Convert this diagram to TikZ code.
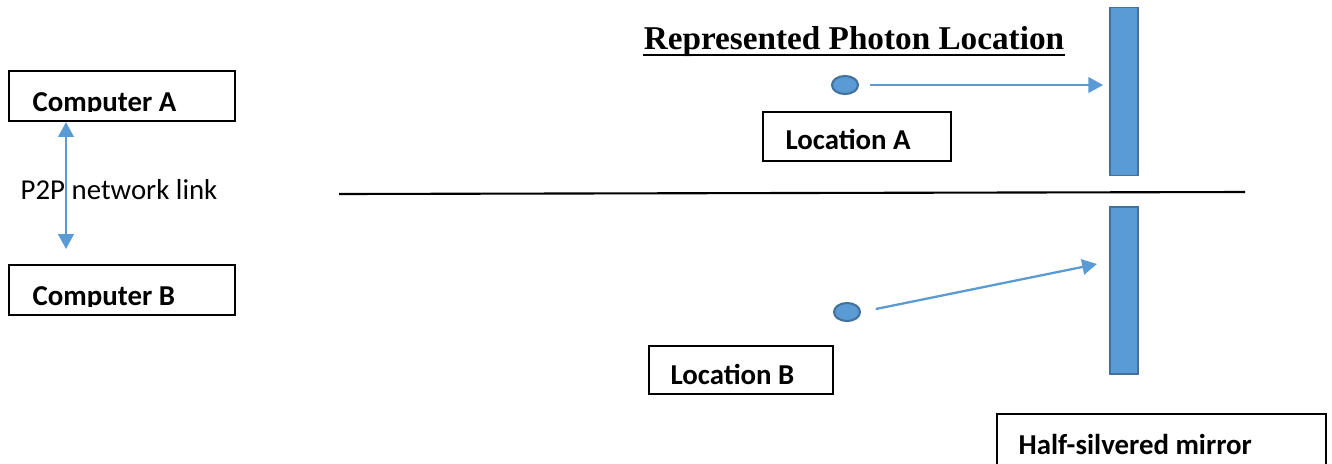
\documentclass[tikz,border=0pt]{standalone}
\usepackage{fontspec}
\setmainfont{Carlito}
\newfontfamily\headfont{Liberation Serif}
\usepackage{tikz}
\usetikzlibrary{shapes.geometric, arrows.meta, positioning}
\definecolor{mirrorblue}{HTML}{5B9BD5}
\definecolor{mirroredge}{HTML}{41719C}
\tikzstyle{textbox} = [rectangle, draw, line width=0.65pt, inner sep=0pt]
\tikzstyle{boxtext} = [inner sep=0pt, font=\fontsize{8.2}{10}\selectfont\bfseries]
\tikzstyle{mirror} = [rectangle, draw=mirroredge, line width=0.45pt, fill=mirrorblue, inner sep=0pt, minimum width=0.28cm]
\tikzstyle{photon} = [ellipse, draw=mirroredge, line width=0.6pt, fill=mirrorblue, inner sep=0pt, minimum width=0.26cm, minimum height=0.18cm]
\tikzstyle{ray} = [draw=mirrorblue, line width=0.65pt, -{Triangle[length=4.2pt, width=4.4pt]}]

\begin{document}
\begin{tikzpicture}[x=0.01cm, y=-0.01cm]
    \useasboundingbox (0,0) rectangle (1332,463);
    \clip (0,0) rectangle (1332,463);

    % Computers on the left, text cut off by the box margin
    \node (compA) [textbox, minimum width=2.26cm, minimum height=0.50cm] at (122,96) {};
    \node (compB) [textbox, minimum width=2.26cm, minimum height=0.50cm] at (122,290) {};
    \begin{scope}
        \clip (compA.north west) rectangle ([yshift=0.11cm]compA.south east);
        \node (compAtext) [boxtext, anchor=base west] at (32,111.5) {Computer A};
    \end{scope}
    \begin{scope}
        \clip (compB.north west) rectangle ([yshift=0.10cm]compB.south east);
        \node (compBtext) [boxtext, anchor=base west] at (32,305.5) {Computer B};
    \end{scope}

    % Link between the two computers
    \node (p2p) [inner sep=0pt, anchor=base west, font=\fontsize{8.2}{10}\selectfont] at (20,199) {P2P network link};
    \coordinate (linkend) at (66,249);
    \draw [ray, {Triangle[length=4.2pt, width=4.4pt]}-{Triangle[length=4.2pt, width=4.4pt]}] (linkend |- compA.south) -- (linkend);

    % Divider between the two locations
    \coordinate (divleft) at (339,194);
    \coordinate (divright) at (1245,192);
    \draw [line width=0.6pt] (divleft) -- (divright);

    % Heading, underline kept close under the baseline
    \node (heading) [inner sep=0pt, anchor=base, font=\headfont\fontsize{9.45}{12}\selectfont\bfseries] at (854,49) {Represented Photon Location};
    \draw [line width=0.6pt] ([yshift=-1.6pt]heading.base west) -- ([yshift=-1.6pt]heading.base east);

    % Upper half: photon at location A
    \node (mirrorA) [mirror, minimum height=1.68cm] at (1124,91.5) {};
    \node (photonA) [photon] at (845,85) {};
    \draw [ray, shorten <=0.11cm, shorten >=0.06cm] (photonA.east) -- (photonA.east -| mirrorA.west);
    \node (locA) [textbox, minimum width=1.88cm, minimum height=0.49cm] at (857,136.5) {};
    \node (locAtext) [boxtext, anchor=base west] at (785,149) {Location A};

    % Lower half: photon at location B
    \node (mirrorB) [mirror, minimum height=1.67cm] at (1124,290.5) {};
    \node (photonB) [photon] at (847,312) {};
    \coordinate (hitB) at (1097,264);
    \draw [ray, shorten <=0.15cm] (photonB.east) -- (hitB);
    \node (locB) [textbox, minimum width=1.84cm, minimum height=0.48cm] at (741,370) {};
    \node (locBtext) [boxtext, anchor=base west] at (670,384) {Location B};

    % Caption box for the mirror, runs past the bottom edge
    \node (halfbox) [textbox, minimum width=3.29cm, minimum height=0.70cm] at (1161.5,449) {};
    \node (halftext) [boxtext, anchor=base west] at (1018,454) {Half-silvered mirror};

\end{tikzpicture}
\end{document}
